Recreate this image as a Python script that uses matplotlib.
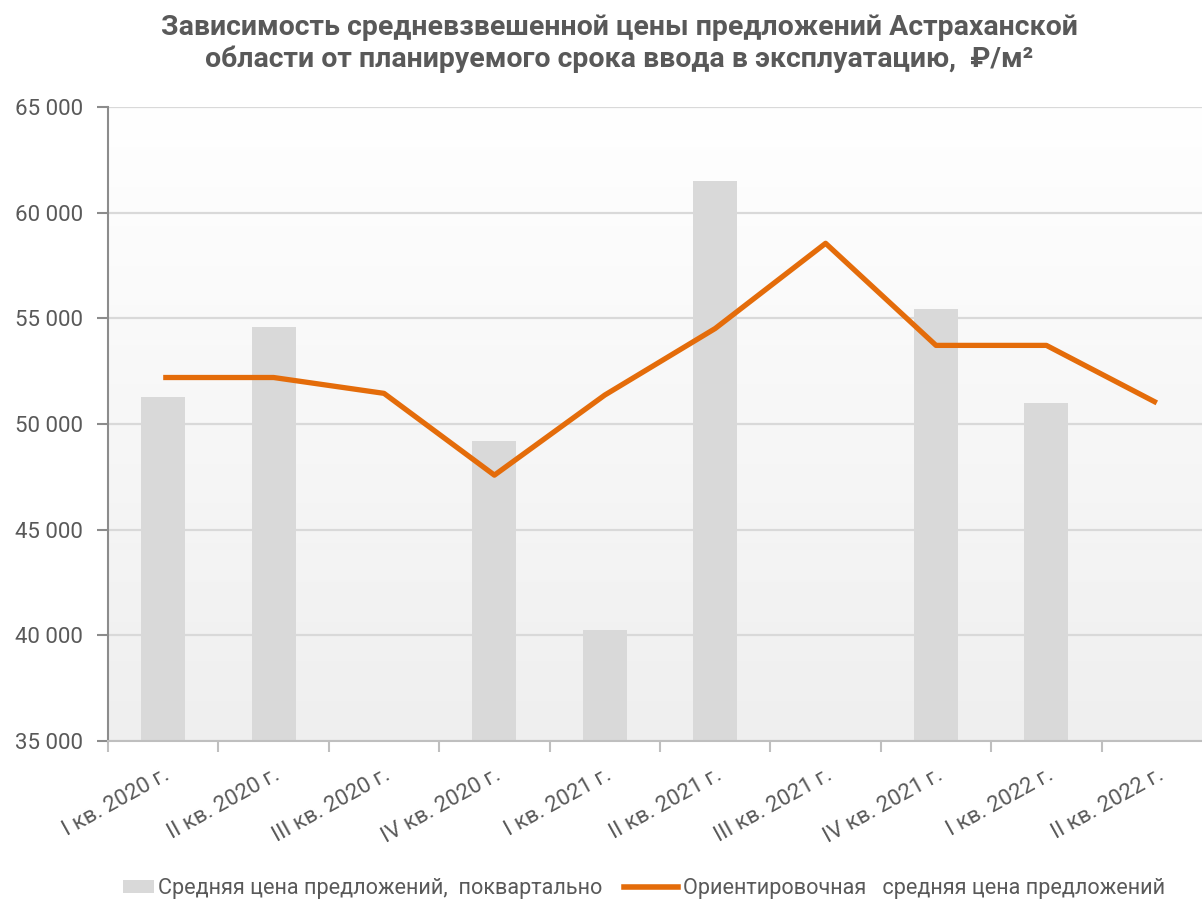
import matplotlib
matplotlib.use("Agg")
import matplotlib.pyplot as plt
import numpy as np
from matplotlib.lines import Line2D
from matplotlib.patches import Patch, Rectangle
from matplotlib.legend_handler import HandlerPatch

categories = ["I кв. 2020 г.", "II кв. 2020 г.", "III кв. 2020 г.", "IV кв. 2020 г.",
              "I кв. 2021 г.", "II кв. 2021 г.", "III кв. 2021 г.", "IV кв. 2021 г.",
              "I кв. 2022 г.", "II кв. 2022 г."]
bar_values = [51280, 54600, None, 49200, 40250, 61500, None, 55450, 51000, None]
line_values = [52200, 52200, 51450, 47580, 51370, 54520, 58550, 53720, 53720, 51000]
yticks = [35000, 40000, 45000, 50000, 55000, 60000, 65000]
ytick_labels = ["35 000", "40 000", "45 000", "50 000", "55 000", "60 000", "65 000"]
bar_label = "Средняя цена предложений,  поквартально"
line_label = "Ориентировочная   средняя цена предложений"
title = "Зависимость средневзвешенной цены предложений Астраханской\nобласти от планируемого срока ввода в эксплуатацию,  ₽/м²"

plt.rcParams['font.family'] = ['Roboto', 'DejaVu Sans']
text_color = "#595959"

fig = plt.figure(figsize=(12.02, 9.06), dpi=100)
ax = fig.add_axes([108/1202, 165/906, 1104/1202, 634/906])

x = np.arange(len(categories))
ymin, ymax = 35000, 65000

# gradient background
grad = np.linspace(0, 1, 256).reshape(-1, 1)
top = np.array([1.0, 1.0, 1.0])
bot = np.array([0xef, 0xef, 0xef]) / 255
img = top[None, None, :] * (1 - grad[:, :, None]) + bot[None, None, :] * grad[:, :, None]
ax.imshow(img, extent=[-0.5, len(categories) - 0.5, ymin, ymax], aspect='auto',
          origin='upper', zorder=0)

for yt in yticks:
    ax.axhline(yt, color="#d9d9d9", lw=1.6, zorder=1)

bx = [xi for xi, v in zip(x, bar_values) if v is not None]
bh = [v - ymin for v in bar_values if v is not None]
ax.bar(bx, bh, bottom=ymin, width=0.4, color="#d9d9d9", zorder=2)
ax.plot(x, line_values, color="#e46c0a", lw=3.8, zorder=3, solid_capstyle='butt')

ax.set_xlim(-0.5, len(categories) - 0.5)
ax.set_ylim(ymin, ymax)
ax.set_yticks(yticks)
ax.set_yticklabels(ytick_labels, fontsize=16, color=text_color)
ax.tick_params(axis='y', length=8, width=1.5, color="#8c8c8c", pad=10)

ax.set_xticks(np.arange(len(categories) + 1) - 0.5)
ax.set_xticklabels([])
ax.tick_params(axis='x', which='major', length=8, width=1.5, color="#bfbfbf")
ax.set_xticks(x, minor=True)
ax.set_xticklabels(categories, minor=True, fontsize=16, color=text_color,
                   rotation=29, ha='right', va='top', rotation_mode='anchor')
ax.tick_params(axis='x', which='minor', length=0, pad=17)

for s in ['top', 'right']:
    ax.spines[s].set_visible(False)
ax.spines['left'].set_color("#8c8c8c")
ax.spines['left'].set_linewidth(1.5)
ax.spines['bottom'].set_color("#bfbfbf")
ax.spines['bottom'].set_linewidth(1.5)
ax.spines['left'].set_zorder(4)
ax.spines['bottom'].set_zorder(4)

fig.text(0.515, 0.984, title, ha='center', va='top', fontsize=20.5, fontweight='bold',
         color=text_color, linespacing=1.2)


def small_patch(legend, orig_handle, xdescent, ydescent, width, height, fontsize):
    w = 22
    h = 9
    return Rectangle((width - w - xdescent, height / 2 - h / 2 - ydescent), w, h)


handles = [Patch(facecolor="#d9d9d9", edgecolor='none'),
           Line2D([0], [0], color="#e46c0a", lw=4)]
fig.legend(handles, [bar_label, line_label], loc='center', bbox_to_anchor=(0.526, 0.019),
           ncol=2, frameon=False, fontsize=15.6, labelcolor=text_color,
           handlelength=2.5, handletextpad=0.2, columnspacing=1.0,
           handler_map={Patch: HandlerPatch(patch_func=small_patch)})

fig.savefig("out.png", dpi=100)
